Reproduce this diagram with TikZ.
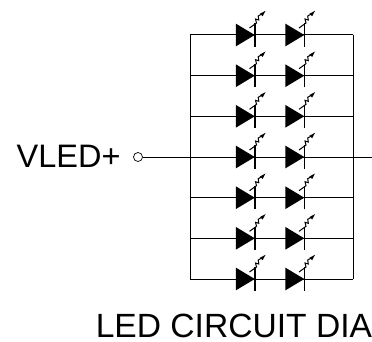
\documentclass[tikz,border=0pt]{standalone}
\usepackage{fontspec}
\setmainfont{Liberation Sans}
\usetikzlibrary{calc}
\tikzset{
  wire/.style={line width=1pt,black},
  ledbody/.style={fill=black,draw=none},
  ledbar/.style={line width=1.2pt,black},
  ray/.style={line width=1pt,black},
  lab/.style={inner sep=0pt,anchor=base west,text=black},
}
\newcommand{\ledat}[2]{% name, x ; uses \yy
  \coordinate (#1) at (#2,\yy);
  \fill[ledbody] ($(#1)+(-18.7,11.4)$) -- ($(#1)+(0.3,0)$) -- ($(#1)+(-18.7,-11.4)$) -- cycle;
  \draw[ledbar] ($(#1)+(0.5,11.6)$) -- ($(#1)+(0.5,-11.6)$);
  \draw[ray] ($(#1)+(-5,-7)$) -- ($(#1)+(2,-12)$) -- ($(#1)+(1,-16)$) -- ($(#1)+(4.3,-15)$) -- ($(#1)+(3.7,-19)$) -- ($(#1)+(6.7,-20.7)$);
  \fill[black] ($(#1)+(11,-24.2)$) -- ($(#1)+(8.2,-18.8)$) -- ($(#1)+(5.4,-21.2)$) -- cycle;
}
\begin{document}
\begin{tikzpicture}[x=1pt,y=-1pt]
\useasboundingbox (0,0) rectangle (372,342);
\clip (0,0) rectangle (372,342);
\foreach \n/\yy in {1/35,2/75.7,3/116.3,4/157,5/197.7,6/238.3,7/279}{
  \coordinate (L\n) at (190,\yy);
  \coordinate (R\n) at (353,\yy);
  \draw[wire] (L\n) -- (R\n);
  \ledat{a\n}{254.5}
  \ledat{b\n}{304}
}
\draw[wire] (L1) -- (L7);
\draw[wire] (R1) -- (R7);
\node[draw=black,line width=0.7pt,circle,minimum size=9pt,inner sep=0pt] (vin) at (138,157) {};
\coordinate (vout) at (372,157);
\draw[line width=0.7pt] (vin) -- (L4);
\draw[line width=0.7pt] (R4) -- (vout);
\node[lab,font=\fontsize{32.5}{33}\selectfont] (vled) at (16.5,167) {VLED+};
\node[lab,font=\fontsize{33.6}{34}\selectfont] (title) at (95.6,337) {LED CIRCUIT DIAG};
\end{tikzpicture}
\end{document}
